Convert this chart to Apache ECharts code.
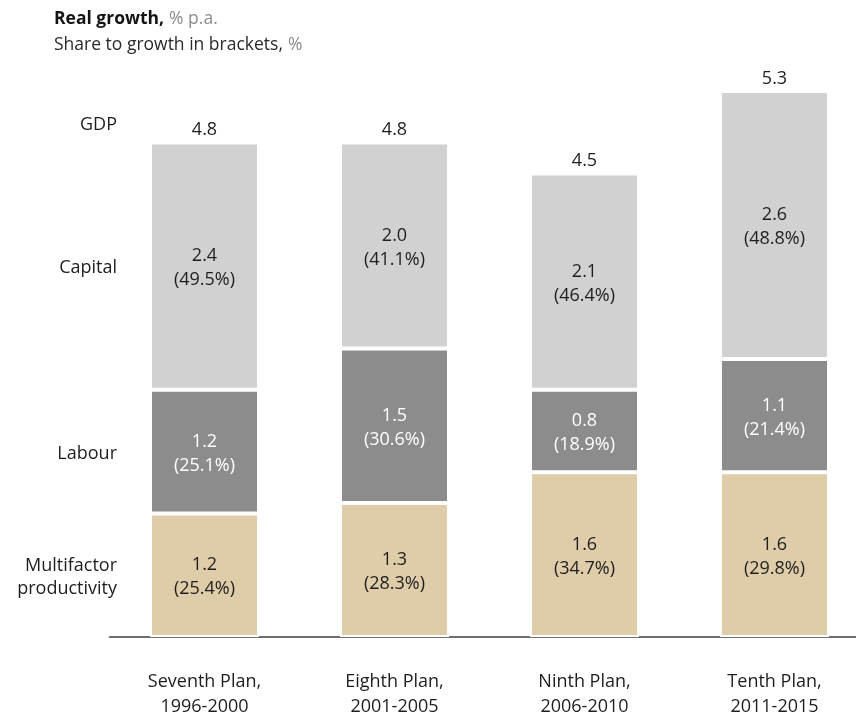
<!DOCTYPE html>
<html>
<head>
<meta charset="utf-8">
<script src="https://cdn.jsdelivr.net/npm/echarts@6/dist/echarts.min.js"></script>
<style>
  html, body { margin: 0; padding: 0; background: #fff; }
  #chart { width: 856px; height: 715px; }
</style>
</head>
<body>
<div id="chart"></div>
<script>
// Plan periods shown along the x axis
const categories = ['Seventh Plan,\n1996-2000', 'Eighth Plan,\n2001-2005', 'Ninth Plan,\n2006-2010', 'Tenth Plan,\n2011-2015'];

// Contribution to real growth, % p.a., and share of growth, %
const mfpGrowth = [1.2, 1.3, 1.6, 1.6];
const mfpShare = [25.4, 28.3, 34.7, 29.8];
const labourGrowth = [1.2, 1.5, 0.8, 1.1];
const labourShare = [25.1, 30.6, 18.9, 21.4];
const capitalGrowth = [2.4, 2.0, 2.1, 2.6];
const capitalShare = [49.5, 41.1, 46.4, 48.8];
const gdpGrowth = [4.8, 4.8, 4.5, 5.3];

// Row captions to the left of the first column
const rowNames = ['Multifactor\nproductivity', 'Labour', 'Capital', 'GDP'];

const FONT = '"Open Sans", sans-serif';
const FS = 18;
const TEXT = '#1e1e1e';
const BAR_W = 109;

const chart = echarts.init(document.getElementById('chart'), null, { renderer: 'canvas' });

function segLabel(shares, color) {
  return {
    show: true,
    position: 'inside',
    offset: [0, 2],
    color: color,
    fontFamily: FONT,
    fontSize: FS,
    lineHeight: 24,
    formatter: p => p.value.toFixed(1) + '\n(' + shares[p.dataIndex].toFixed(1) + '%)'
  };
}

function barSeries(name, values, shares, fill, labelColor) {
  return {
    name: name,
    type: 'bar',
    stack: 'growth',
    barWidth: BAR_W,
    data: values,
    itemStyle: { color: fill, borderColor: '#ffffff', borderWidth: 2 },
    label: segLabel(shares, labelColor),
    emphasis: { disabled: true }
  };
}

chart.setOption({
  animation: false,
  title: {
    left: 49,
    top: 1,
    text: '{b|Real growth,} {g|% p.a.}\n{n|Share to growth in brackets,} {g|%}',
    textStyle: {
      rich: {
        b: { fontFamily: FONT, fontSize: 17.5, fontWeight: 'bold', color: '#141414', lineHeight: 26 },
        n: { fontFamily: FONT, fontSize: 17.5, fontWeight: 'normal', color: '#2a2a2a', lineHeight: 26 },
        g: { fontFamily: FONT, fontSize: 17.5, fontWeight: 'normal', color: '#8c8c8c', lineHeight: 26 }
      }
    }
  },
  grid: { left: 109.5, width: 760, top: 19, bottom: 78, outerBoundsMode: 'none', containLabel: false },
  xAxis: {
    type: 'category',
    data: categories,
    axisTick: { show: false },
    axisLine: { lineStyle: { color: '#404040', width: 1.5 } },
    axisLabel: { margin: 32, color: TEXT, fontFamily: FONT, fontSize: FS, lineHeight: 25, interval: 0 }
  },
  yAxis: { type: 'value', min: 0, max: 6, show: false },
  series: [
    barSeries('Multifactor productivity', mfpGrowth, mfpShare, '#dfcda9', TEXT),
    barSeries('Labour', labourGrowth, labourShare, '#8c8c8c', '#ffffff'),
    barSeries('Capital', capitalGrowth, capitalShare, '#d1d1d1', TEXT),
    {
      // GDP totals written above each column
      name: 'GDP',
      type: 'scatter',
      data: gdpGrowth,
      symbolSize: 1,
      itemStyle: { color: 'rgba(0,0,0,0)', opacity: 1 },
      label: {
        show: true,
        position: 'top',
        distance: 3,
        color: TEXT,
        fontFamily: FONT,
        fontSize: FS,
        formatter: p => p.value.toFixed(1)
      },
      emphasis: { disabled: true }
    }
  ]
});

// Row captions, placed beside the segments of the first column
const firstX = chart.convertToPixel({ xAxisIndex: 0 }, 0);
const capX = firstX - BAR_W / 2 - 33;
const yPix = v => chart.convertToPixel({ yAxisIndex: 0 }, v);
const mids = [
  mfpGrowth[0] / 2,
  mfpGrowth[0] + labourGrowth[0] / 2,
  mfpGrowth[0] + labourGrowth[0] + capitalGrowth[0] / 2
];
const rowY = mids.map(v => yPix(v) + 2).concat([yPix(gdpGrowth[0]) - 18]);

chart.setOption({
  graphic: rowNames.map((txt, i) => ({
    type: 'text',
    x: capX,
    y: rowY[i],
    style: {
      text: txt,
      align: 'right',
      verticalAlign: 'middle',
      fill: TEXT,
      font: FS + 'px ' + FONT,
      lineHeight: 23
    }
  }))
});
</script>
</body>
</html>
